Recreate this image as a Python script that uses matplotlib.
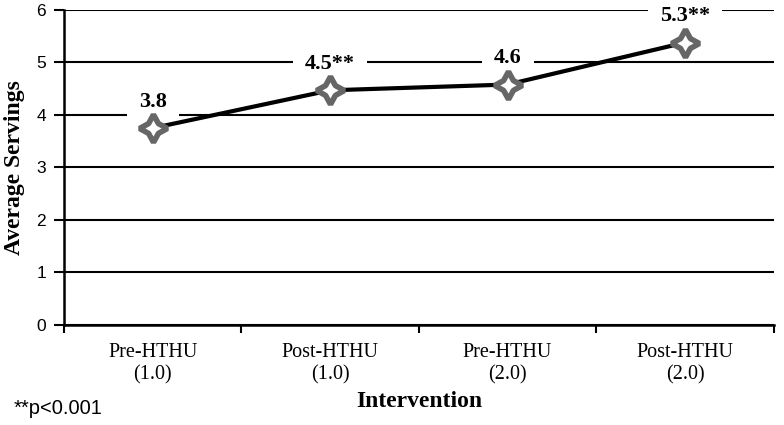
import matplotlib.pyplot as plt
from matplotlib.ticker import MultipleLocator

# Data
categories = ['Pre-HTHU\n(1.0)', 'Post-HTHU\n(1.0)', 'Pre-HTHU\n(2.0)', 'Post-HTHU\n(2.0)']
servings = [3.75, 4.47, 4.58, 5.38]
point_labels = ['3.8', '4.5**', '4.6', '5.3**']

serif = 'Liberation Serif'
sans = 'Liberation Sans'

fig = plt.figure(figsize=(7.84, 4.25), dpi=100)
ax = fig.add_axes([0.0816, 0.2353, 0.9054, 0.7412])

x = list(range(len(categories)))
ax.plot(x, servings, color='black', linewidth=3, zorder=3)
ax.plot(x, servings, linestyle='none', marker=(4, 1, 0), markersize=20,
        markerfacecolor='white', markeredgecolor='#666666', markeredgewidth=4, zorder=4)

for xi, yi, lab in zip(x, servings, point_labels):
    ax.annotate(lab, (xi, yi), xytext=(0, 19), textcoords='offset points',
                ha='center', va='center', fontsize=16, fontweight='bold', family=serif,
                bbox=dict(boxstyle='square,pad=0.55', facecolor='white', edgecolor='none'),
                zorder=2)

ax.set_xlim(-0.5, len(categories) - 0.5)
ax.set_ylim(0, 6)
ax.yaxis.set_major_locator(MultipleLocator(1))
ax.grid(axis='y', color='black', linewidth=1.5, zorder=1)
ax.set_axisbelow(True)

# ticks at category boundaries, labels centered
ax.set_xticks([i - 0.5 for i in range(len(categories) + 1)])
ax.set_xticklabels([])
ax.set_xticks(x, minor=True)
ax.set_xticklabels(categories, minor=True, family=serif, fontsize=14.5)
ax.tick_params(axis='x', which='minor', length=0, pad=13)
ax.tick_params(axis='x', which='major', direction='out', length=6, width=1.5)
ax.tick_params(axis='y', direction='out', length=7, width=1.5, labelsize=12.5, pad=6)
for t in ax.get_yticklabels():
    t.set_family(sans)

for side in ['top', 'right']:
    ax.spines[side].set_visible(False)
for side in ['left', 'bottom']:
    ax.spines[side].set_linewidth(1.8)

ax.set_xlabel('Intervention', family=serif, fontsize=17, fontweight='bold', labelpad=5)
ax.set_ylabel('Average Servings', family=serif, fontsize=17, fontweight='bold', labelpad=8)

fig.text(0.018, 0.025, '**p<0.001', family=sans, fontsize=14.5)

fig.savefig('out.png', dpi=100)
